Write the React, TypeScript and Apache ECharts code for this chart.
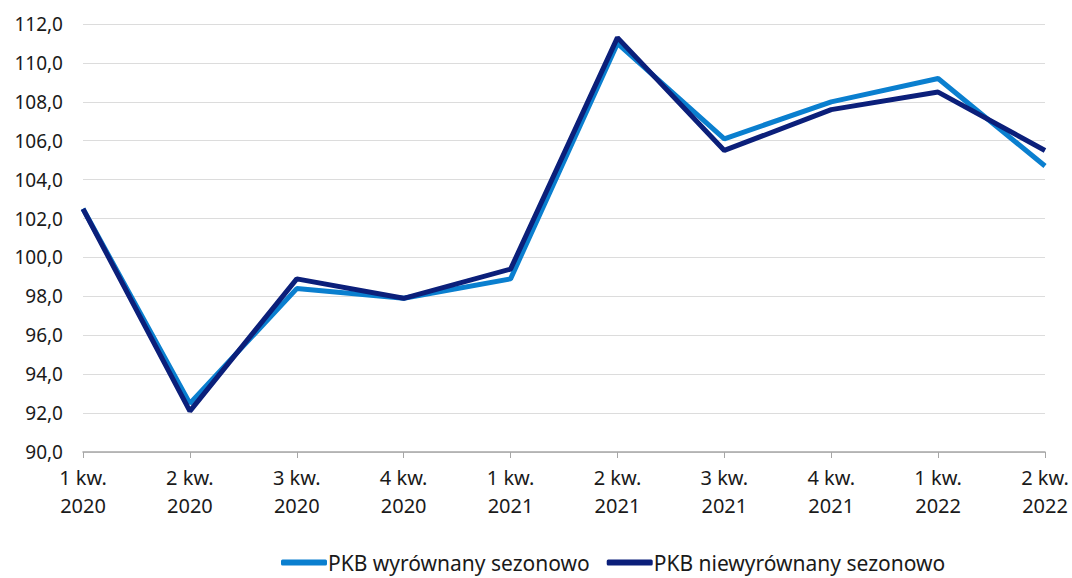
import React, { useEffect, useRef } from "react";
import * as echarts from "echarts";

const categories = [
  "1 kw.\n2020", "2 kw.\n2020", "3 kw.\n2020", "4 kw.\n2020", "1 kw.\n2021",
  "2 kw.\n2021", "3 kw.\n2021", "4 kw.\n2021", "1 kw.\n2022", "2 kw.\n2022",
];
const seasonallyAdjusted = [102.5, 92.5, 98.4, 97.9, 98.9, 111.0, 106.1, 108.0, 109.2, 104.7];
const notAdjusted = [102.5, 92.1, 98.9, 97.9, 99.4, 111.3, 105.5, 107.6, 108.5, 105.5];
const seriesNames = ["PKB wyrównany sezonowo", "PKB niewyrównany sezonowo"];

const FONT = "Noto Sans";

export default function App() {
  const ref = useRef<HTMLDivElement>(null);
  useEffect(() => {
    if (!ref.current) return;
    const chart = echarts.init(ref.current, undefined, { renderer: "svg" });
    chart.setOption({
      animation: false,
      textStyle: { fontFamily: FONT },
      grid: { left: 83, right: 27, top: 24, bottom: 126, containLabel: false },
      legend: {
        bottom: 0,
        left: 276,
        itemWidth: 46,
        itemHeight: 6,
        itemGap: 17,
        icon: "roundRect",
        textStyle: { fontFamily: FONT, fontSize: 21, color: "#1a1a1a", padding: [0, 0, 0, -4] },
        data: seriesNames,
      },
      xAxis: {
        type: "category",
        data: categories,
        boundaryGap: false,
        axisLine: { lineStyle: { color: "#a6a6a6", width: 1.5 } },
        axisTick: { show: true, length: 6, lineStyle: { color: "#a6a6a6" } },
        axisLabel: {
          fontFamily: FONT,
          fontSize: 20,
          color: "#1a1a1a",
          lineHeight: 28,
          margin: 11,
          interval: 0,
        },
      },
      yAxis: {
        type: "value",
        min: 90,
        max: 112,
        interval: 2,
        axisLine: { show: false },
        axisTick: { show: false },
        splitLine: { lineStyle: { color: "#dcdcdc", width: 1 } },
        axisLabel: {
          fontFamily: FONT,
          fontSize: 19,
          color: "#1a1a1a",
          margin: 20,
          formatter: (v: number) => v.toFixed(1).replace(".", ","),
        },
      },
      series: [
        {
          name: seriesNames[0],
          type: "line",
          data: seasonallyAdjusted,
          symbol: "none",
          lineStyle: { color: "#0a7fcf", width: 5 },
          itemStyle: { color: "#0a7fcf" },
        },
        {
          name: seriesNames[1],
          type: "line",
          data: notAdjusted,
          symbol: "none",
          lineStyle: { color: "#0b1f7a", width: 5 },
          itemStyle: { color: "#0b1f7a" },
        },
      ],
    });
    return () => chart.dispose();
  }, []);
  return <div ref={ref} style={{ width: 1072, height: 578, position: "absolute", left: 0, top: 0 }} />;
}
